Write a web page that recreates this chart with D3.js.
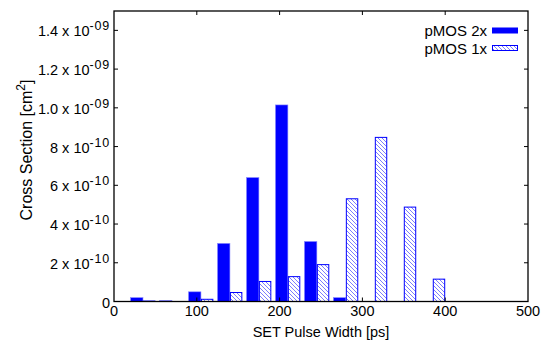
<!DOCTYPE html>
<html>
<head>
<meta charset="utf-8">
<script src="https://cdn.jsdelivr.net/npm/d3@7"></script>
<style>
  body { margin: 0; background: #fff; }
  svg text { font-family: "Liberation Sans", Arial, sans-serif; fill: #000; }
</style>
</head>
<body>
<div id="chart"></div>
<script>
// bin centres (ps) and cross sections (cm^2)
const bins = [35, 70, 105, 140, 175, 210, 245, 280, 315, 350, 385];
const pmos2x = [2.0e-11, 5e-12, 5.0e-11, 3.0e-10, 6.4e-10, 1.015e-9, 3.1e-10, 2.0e-11, 0, 0, 0];
const pmos1x = [5e-12, 0, 1.4e-11, 4.9e-11, 1.06e-10, 1.31e-10, 1.93e-10, 5.33e-10, 8.5e-10, 4.9e-10, 1.18e-10];
const seriesNames = ["pMOS 2x", "pMOS 1x"];

const xTicks = [0, 100, 200, 300, 400, 500];
const yTicks = [0, 2e-10, 4e-10, 6e-10, 8e-10, 1.0e-9, 1.2e-9, 1.4e-9];
const yTickMant = ["0", "2", "4", "6", "8", "1.0", "1.2", "1.4"];
const yTickExp = ["", "-10", "-10", "-10", "-10", "-09", "-09", "-09"];

const width = 544, height = 343;
const margin = {top: 11, left: 114, bottom: 41.5, right: 16};
const barW = 15; // ps

const svg = d3.select("#chart").append("svg")
    .attr("width", width).attr("height", height);

const x = d3.scaleLinear().domain([0, 500]).range([margin.left, width - margin.right]);
const y = d3.scaleLinear().domain([0, 1.5e-9]).range([height - margin.bottom, margin.top]);

// hatch pattern for the 1x series
const defs = svg.append("defs");
const pat = defs.append("pattern")
    .attr("id", "hatch")
    .attr("patternUnits", "userSpaceOnUse")
    .attr("width", 4).attr("height", 4);
pat.append("rect").attr("width", 4).attr("height", 4).attr("fill", "#fff");
pat.append("path")
    .attr("d", "M-1,-1 L5,5 M-1,3 L1,5 M3,-1 L5,1")
    .attr("stroke", "#5a5aff").attr("stroke-width", 0.8);

// bars
const bw = x(barW) - x(0);
svg.append("g").selectAll("rect")
    .data(bins.map((b, i) => ({b, v: pmos2x[i]})).filter(d => d.v > 0))
    .join("rect")
    .attr("x", d => x(d.b - barW))
    .attr("y", d => y(d.v))
    .attr("width", bw)
    .attr("height", d => y(0) - y(d.v))
    .attr("fill", "#0000ff")
    .attr("stroke", "#8a8aff").attr("stroke-width", 0.6);

svg.append("g").selectAll("rect")
    .data(bins.map((b, i) => ({b, v: pmos1x[i]})).filter(d => d.v > 0))
    .join("rect")
    .attr("x", d => x(d.b) + 0.5)
    .attr("y", d => y(d.v) + 0.5)
    .attr("width", bw - 1)
    .attr("height", d => Math.max(0, y(0) - y(d.v) - 0.5))
    .attr("fill", "url(#hatch)")
    .attr("stroke", "#0000ff").attr("stroke-width", 1);

// frame
const frame = svg.append("g");
frame.append("rect")
    .attr("x", x(0)).attr("y", y(1.5e-9))
    .attr("width", x(500) - x(0)).attr("height", y(0) - y(1.5e-9))
    .attr("fill", "none").attr("stroke", "#000").attr("stroke-width", 1.3);

// ticks (inward, mirrored)
const tl = 4;
frame.selectAll(".xt").data(xTicks.slice(1, -1)).join("path")
    .attr("d", d => `M${x(d)},${y(0)}v${-tl}M${x(d)},${y(1.5e-9)}v${tl}`)
    .attr("stroke", "#000").attr("stroke-width", 1);
frame.selectAll(".yt").data(yTicks.slice(1)).join("path")
    .attr("d", d => `M${x(0)},${y(d)}h${tl}M${x(500)},${y(d)}h${-tl}`)
    .attr("stroke", "#000").attr("stroke-width", 1);

// x tick labels
svg.append("g").selectAll("text").data(xTicks).join("text")
    .attr("x", d => x(d)).attr("y", 316)
    .attr("text-anchor", "middle")
    .attr("font-size", 14.5)
    .text(d => d);

// y tick labels with superscript exponents
const yl = svg.append("g").selectAll("text").data(yTicks).join("text")
    .attr("x", 110).attr("y", d => y(d) + 6)
    .attr("text-anchor", "end")
    .attr("font-size", 14.5);
yl.each(function(d, i) {
  const t = d3.select(this);
  if (!yTickExp[i]) { t.text(yTickMant[i]); return; }
  t.append("tspan").text(yTickMant[i] + " x 10");
  t.append("tspan").attr("dy", -6).attr("font-size", 12.5)
      .attr("letter-spacing", 0.8).text(yTickExp[i]);
});

// axis titles
svg.append("text")
    .attr("x", (x(0) + x(500)) / 2).attr("y", 337)
    .attr("text-anchor", "middle").attr("font-size", 14.5)
    .text("SET Pulse Width [ps]");

const yt = svg.append("text")
    .attr("transform", `translate(32,150) rotate(-90)`)
    .attr("text-anchor", "middle").attr("font-size", 16);
yt.append("tspan").text("Cross Section [cm");
yt.append("tspan").attr("dy", -7).attr("font-size", 12).text("2");
yt.append("tspan").attr("dy", 7).text("]");

// legend
const leg = svg.append("g");
const legY = [30.5, 48];
leg.selectAll("text").data(seriesNames).join("text")
    .attr("x", 487).attr("y", (d, i) => legY[i] + 5.5)
    .attr("text-anchor", "end").attr("font-size", 15)
    .text(d => d);
leg.append("rect")
    .attr("x", 492).attr("y", legY[0] - 3).attr("width", 26).attr("height", 6)
    .attr("fill", "#0000ff");
leg.append("rect")
    .attr("x", 492.5).attr("y", legY[1] - 2.5).attr("width", 25).attr("height", 5)
    .attr("fill", "url(#hatch)").attr("stroke", "#0000ff").attr("stroke-width", 1);
</script>
</body>
</html>
